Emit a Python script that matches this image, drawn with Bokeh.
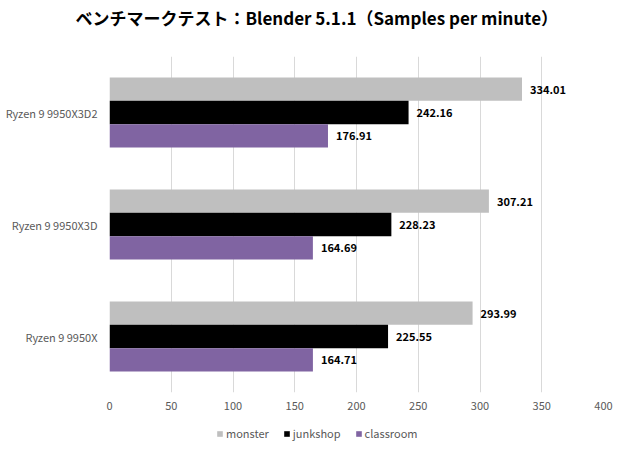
from bokeh.plotting import figure
from bokeh.layouts import column
from bokeh.models import ColumnDataSource, FactorRange, Range1d, Legend, LegendItem, FixedTicker
from bokeh.transform import dodge
from bokeh.core.properties import value
from bokeh.embed import file_html
from bokeh.resources import INLINE

cpus = ["Ryzen 9 9950X3D2", "Ryzen 9 9950X3D", "Ryzen 9 9950X"]
monster = [334.01, 307.21, 293.99]
junkshop = [242.16, 228.23, 225.55]
classroom = [176.91, 164.69, 164.71]
series_names = ["monster", "junkshop", "classroom"]
colors = ["#BFBFBF", "#000000", "#8064A2"]
x_ticks = [0, 50, 100, 150, 200, 250, 300, 350, 400]
title_text = "ベンチマークテスト：Blender 5.1.1（Samples per minute）"

FONT = "Noto Sans CJK JP"


def blank_figure(h):
    f = figure(width=620, height=h, output_backend="svg", toolbar_location=None,
               x_range=Range1d(0, 1), y_range=Range1d(0, 1),
               min_border_left=109, min_border_right=17, min_border_top=0, min_border_bottom=0)
    f.axis.visible = False
    f.grid.visible = False
    f.outline_line_color = None
    f.border_fill_color = "white"
    f.background_fill_color = "white"
    return f


# title strip
t = blank_figure(56)
t.title.text = title_text
t.title.text_font = FONT
t.title.text_font_style = "bold"
t.title.text_font_size = "17px"
t.title.text_color = "#000000"
t.title.align = "left"
t.title.offset = -34
t.title.standoff = 4

# main chart
src = ColumnDataSource(dict(cpu=cpus, monster=monster, junkshop=junkshop, classroom=classroom,
                            monster_t=[f"{v:.2f}" for v in monster],
                            junkshop_t=[f"{v:.2f}" for v in junkshop],
                            classroom_t=[f"{v:.2f}" for v in classroom]))

p = figure(frame_width=494, frame_height=336, output_backend="svg", toolbar_location=None,
           y_range=FactorRange(*cpus[::-1]), x_range=Range1d(0, 400),
           min_border_left=109, min_border_right=17, min_border_top=0, min_border_bottom=24)
p.outline_line_color = None
p.background_fill_color = "white"
p.border_fill_color = "white"

bh = 0.208
offsets = [bh, 0.0, -bh]
for name, col, off in zip(series_names, colors, offsets):
    p.hbar(y=dodge("cpu", off, range=p.y_range), right=name, left=0, height=bh,
           source=src, fill_color=col, line_color=None)
    p.text(x=name, y=dodge("cpu", off, range=p.y_range), text=name + "_t", source=src,
           x_offset=8, text_baseline="middle", text_align="left",
           text_font=value(FONT), text_font_style="bold", text_font_size="11px",
           text_color="#000000")

p.xgrid.grid_line_color = "#D9D9D9"
p.ygrid.grid_line_color = None
p.xaxis.ticker = FixedTicker(ticks=x_ticks)
for ax in (p.xaxis, p.yaxis):
    ax.axis_line_color = None
    ax.major_tick_line_color = None
    ax.minor_tick_line_color = None
    ax.major_tick_out = 0
    ax.major_tick_in = 0
    ax.major_label_text_font = FONT
    ax.major_label_text_font_size = "11px"
    ax.major_label_text_color = "#595959"
p.yaxis.major_label_standoff = 12
p.xaxis.major_label_standoff = 9

# legend strip below the chart (swatches come from zero-width placeholder bars)
q = blank_figure(34)
leg_renderers = []
for c in colors:
    s = ColumnDataSource(dict(y=[0.5], left=[0.0], right=[0.0]))
    leg_renderers.append(q.hbar(y="y", right="right", left="left", height=0.5, source=s,
                                fill_color=c, line_color=None))
legend = Legend(items=[LegendItem(label=n, renderers=[r]) for n, r in zip(series_names, leg_renderers)],
                orientation="horizontal", location=(107, 9),
                label_text_font=FONT, label_text_font_size="11px", label_text_color="#595959",
                glyph_width=7, glyph_height=7, label_standoff=3, spacing=14,
                border_line_color=None, background_fill_alpha=0, padding=2, margin=0)
q.add_layout(legend)

layout = column(t, p, q, spacing=0)
open("out.html", "w").write(file_html(layout, INLINE))
